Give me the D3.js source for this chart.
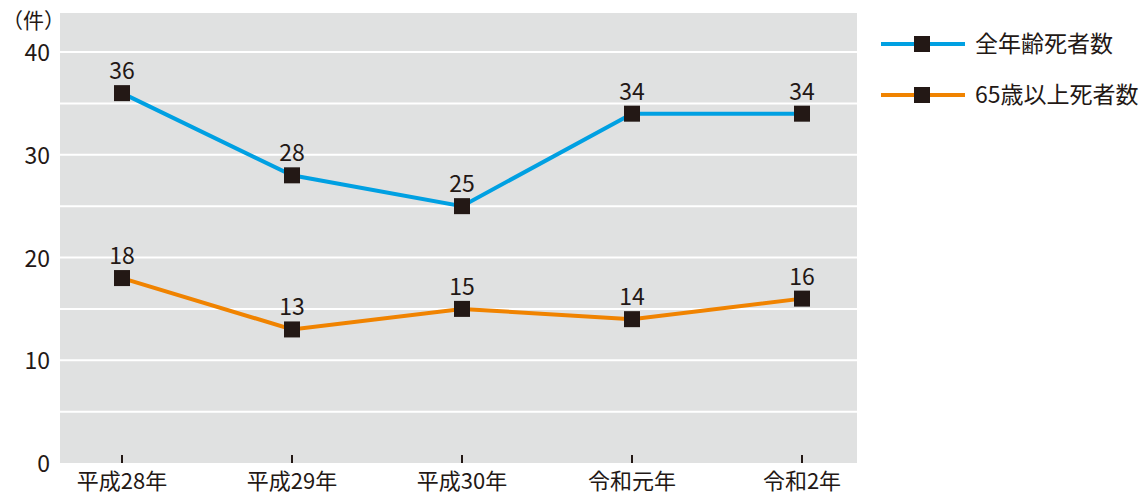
<!DOCTYPE html>
<html>
<head>
<meta charset="utf-8">
<script src="https://cdn.jsdelivr.net/npm/d3@7"></script>
<style>
  body { margin: 0; background: #fff; }
  svg text { font-family: "Noto Sans CJK JP", "Noto Sans", sans-serif; fill: #231815; }
</style>
</head>
<body>
<svg id="chart" width="1146" height="495"></svg>
<script>
// categories and series
var years = ["平成28年", "平成29年", "平成30年", "令和元年", "令和2年"]
var allAges = [36, 28, 25, 34, 34]
var over65 = [18, 13, 15, 14, 16]
var yTicks = [0, 10, 20, 30, 40]
var gridValues = [5, 10, 15, 20, 25, 30, 35, 40]
var seriesNames = ["全年齢死者数", "65歳以上死者数"]
var seriesColours = ["#00a0e2", "#f08300"]

var svg = d3.select("#chart")

var plot = { left: 60, right: 857, top: 13, bottom: 463 }

var x = d3.scalePoint().domain(years).range([122, 802])
var y = d3.scaleLinear().domain([0, 43.8]).range([plot.bottom, plot.top])

// grey background
svg.append("rect")
    .attr("x", plot.left).attr("y", plot.top)
    .attr("width", plot.right - plot.left).attr("height", plot.bottom - plot.top)
    .attr("fill", "#e0e1e1")

// white gridlines
svg.selectAll(".grid").data(gridValues).enter().append("line")
    .attr("class", "grid")
    .attr("x1", plot.left).attr("x2", plot.right)
    .attr("y1", function(d) { return y(d) }).attr("y2", function(d) { return y(d) })
    .attr("stroke", "#fff").attr("stroke-width", 2)

// y axis labels
svg.selectAll(".ylab").data(yTicks).enter().append("text")
    .attr("class", "ylab")
    .attr("x", 50).attr("y", function(d) { return y(d) + 9 })
    .attr("text-anchor", "end")
    .attr("font-size", 23)
    .text(function(d) { return d })

svg.append("text")
    .attr("x", 2).attr("y", 28)
    .attr("font-size", 21)
    .text("（件）")

// x ticks (inside plot) and labels
svg.selectAll(".xtick").data(years).enter().append("line")
    .attr("class", "xtick")
    .attr("x1", function(d) { return x(d) }).attr("x2", function(d) { return x(d) })
    .attr("y1", plot.bottom - 8).attr("y2", plot.bottom)
    .attr("stroke", "#231815").attr("stroke-width", 2)

svg.selectAll(".xlab").data(years).enter().append("text")
    .attr("class", "xlab")
    .attr("x", function(d) { return x(d) }).attr("y", 489)
    .attr("text-anchor", "middle")
    .attr("font-size", 22)
    .text(function(d) { return d })

// series
var series = [allAges, over65]
var line = d3.line()
    .x(function(d, i) { return x(years[i]) })
    .y(function(d) { return y(d) })

series.forEach(function(values, s) {

    svg.append("path")
        .datum(values)
        .attr("d", line)
        .attr("fill", "none")
        .attr("stroke", seriesColours[s])
        .attr("stroke-width", 4)

    svg.selectAll(".marker" + s).data(values).enter().append("rect")
        .attr("class", "marker" + s)
        .attr("x", function(d, i) { return x(years[i]) - 8 })
        .attr("y", function(d) { return y(d) - 8 })
        .attr("width", 16).attr("height", 16)
        .attr("fill", "#231815")

    svg.selectAll(".val" + s).data(values).enter().append("text")
        .attr("class", "val" + s)
        .attr("x", function(d, i) { return x(years[i]) })
        .attr("y", function(d) { return y(d) - 14 })
        .attr("text-anchor", "middle")
        .attr("font-size", 23)
        .text(function(d) { return d })
})

// legend
seriesNames.forEach(function(name, s) {
    var ly = 44 + s * 51
    svg.append("line")
        .attr("x1", 881).attr("x2", 965)
        .attr("y1", ly).attr("y2", ly)
        .attr("stroke", seriesColours[s]).attr("stroke-width", 4)
    svg.append("rect")
        .attr("x", 914).attr("y", ly - 8)
        .attr("width", 16).attr("height", 16)
        .attr("fill", "#231815")
    svg.append("text")
        .attr("x", 975).attr("y", ly + 8)
        .attr("font-size", 23)
        .text(name)
})
</script>
</body>
</html>
